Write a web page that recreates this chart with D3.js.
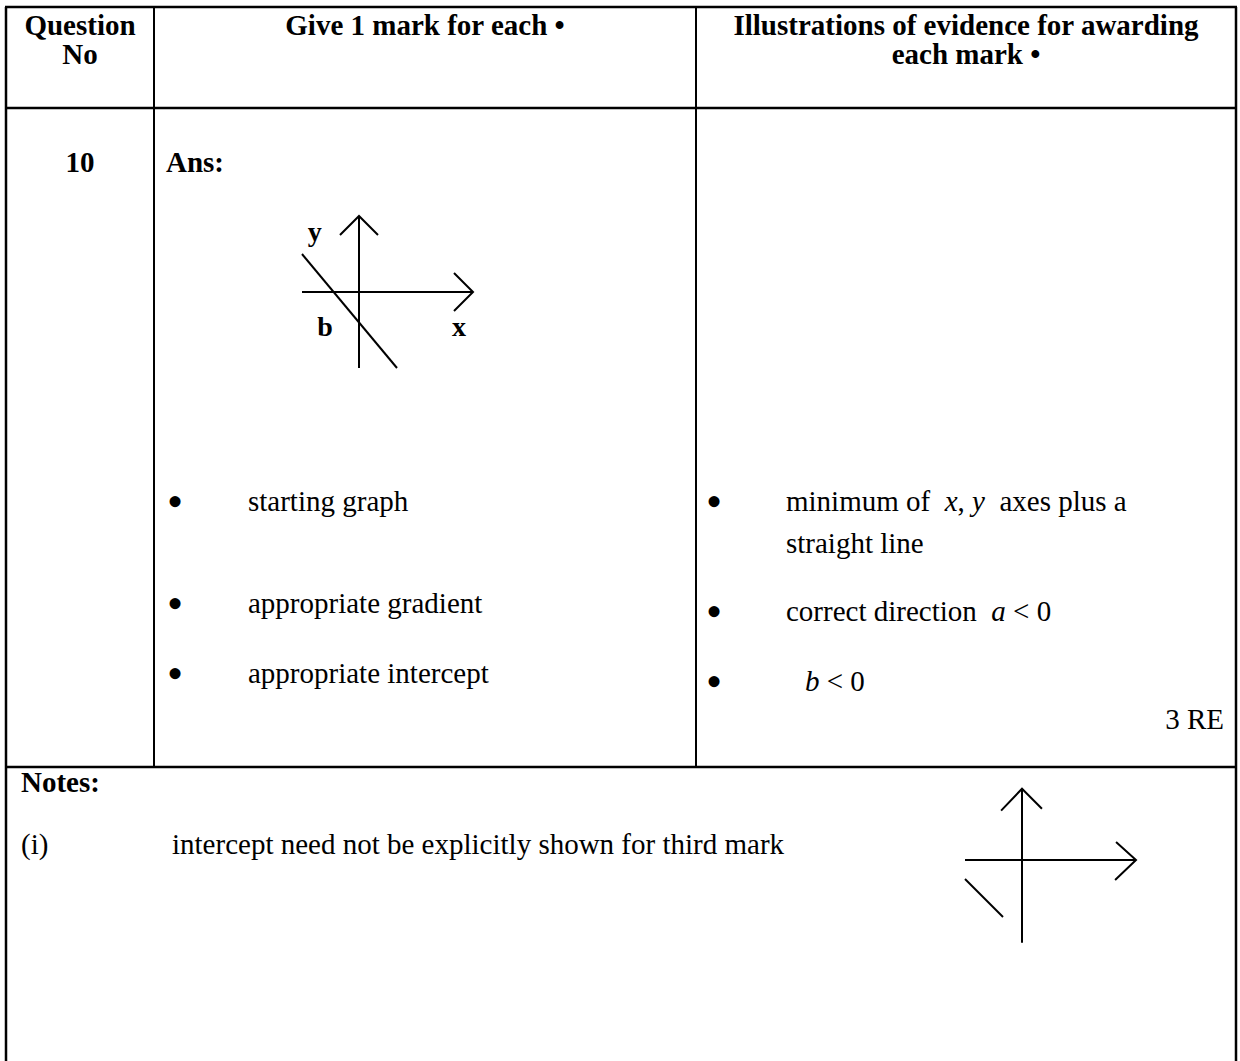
<!DOCTYPE html>
<html>
<head>
<meta charset="utf-8">
<script src="https://cdn.jsdelivr.net/npm/d3@7"></script>
<style>
  body { margin: 0; background: #fff; }
  text { font-family: "Liberation Serif", "Times New Roman", serif; fill: #000; }
</style>
</head>
<body>
<script>
// table text
var headers = [
    ['Question', 'No'],
    ['Give 1 mark for each \u2022'],
    ['Illustrations of evidence for awarding', 'each mark \u2022']
];
var questionNo = '10';
var answerLabel = 'Ans:';
var marks = ['starting graph', 'appropriate gradient', 'appropriate intercept'];
// evidence lines, each a list of [text, italic] pieces
var evidence = [
    [[['minimum of  ', false], ['x', true], [', ', false], ['y', true], ['  axes plus a', false]],
     [['straight line', false]]],
    [[['correct direction  ', false], ['a', true], [' < 0', false]]],
    [[['b', true], [' < 0', false]]]
];
var markTotal = '3 RE';
var notesTitle = 'Notes:';
var notes = [['(i)', 'intercept need not be explicitly shown for third mark']];

// sketch 1 (answer graph), in sketch units
var ansAxisX = [[-3, 0], [6, 0]];
var ansArrowX = [[5, 1], [6, 0], [5, -1]];
var ansAxisY = [[0, -4], [0, 4]];
var ansArrowY = [[-1, 3], [0, 4], [1, 3]];
var ansLine = [[-3, 2], [2, -4]];
var ansLabels = [['y', -2.7, 2.7], ['b', -2.2, -2.3], ['x', 4.9, -2.3]];

// sketch 2 (notes graph)
var noteAxisX = [[-3, 0], [6, 0]];
var noteArrowX = [[4.95, 0.95], [6, 0], [4.9, -1.05]];
var noteAxisY = [[0, -4.35], [0, 3.75]];
var noteArrowY = [[-1.1, 2.6], [0, 3.75], [1.05, 2.7]];
var noteLine = [[-3, -1], [-1, -3]];

var W = 1240, H = 1061;
var FS = 29;
var colX = [6, 154, 696, 1236];
var rowY = [7, 108, 767];

var svg = d3.select('body').append('svg')
    .attr('width', W)
    .attr('height', H);

drawGrid();
drawHeaders();
drawBody();
drawSketch(359, 292, 19, [ansAxisX, ansArrowX, ansAxisY, ansArrowY, ansLine], ansLabels);
drawSketch(1022, 860, 19, [noteAxisX, noteArrowX, noteAxisY, noteArrowY, noteLine], []);

function hline(x1, x2, y, w) {
    svg.append('line').attr('x1', x1).attr('x2', x2).attr('y1', y).attr('y2', y)
        .attr('stroke', '#000').attr('stroke-width', w);
}

function vline(x, y1, y2, w) {
    svg.append('line').attr('x1', x).attr('x2', x).attr('y1', y1).attr('y2', y2)
        .attr('stroke', '#000').attr('stroke-width', w);
}

function drawGrid() {
    hline(colX[0] - 1, colX[3] + 1, rowY[0], 2.5);
    hline(colX[0] - 1, colX[3] + 1, rowY[1], 2.5);
    hline(colX[0] - 1, colX[3] + 1, rowY[2], 2.5);
    vline(colX[0], rowY[0], H, 2.5);
    vline(colX[3], rowY[0], H, 2.5);
    vline(colX[1], rowY[0], rowY[2], 2);
    vline(colX[2], rowY[0], rowY[2], 2);
}

function addText(x, y, str, size, bold, anchor) {
    return svg.append('text')
        .attr('x', x).attr('y', y)
        .attr('font-size', size)
        .attr('font-weight', bold ? 'bold' : 'normal')
        .attr('text-anchor', anchor || 'start')
        .text(str);
}

function bullet(cx, cy) {
    // large bullet glyph, centred on (cx, cy)
    addText(cx, cy + 15, '\u2022', 46, false, 'middle');
}

function drawHeaders() {
    headers.forEach(function (lines, i) {
        var cx = (colX[i] + colX[i + 1]) / 2;
        lines.forEach(function (l, j) {
            addText(cx, 35 + j * 29, l, FS, true, 'middle');
        });
    });
}

function drawBody() {
    addText(80, 172, questionNo, FS, true, 'middle');
    addText(166, 172, answerLabel, FS, true);

    var markY = [511, 613, 683];
    marks.forEach(function (m, i) {
        bullet(175, markY[i] - 9);
        addText(248, markY[i], m, FS);
    });

    var evY = [511, 621, 691];
    var evX = [786, 786, 805];
    evidence.forEach(function (lines, i) {
        bullet(714, evY[i] - 9);
        lines.forEach(function (pieces, j) {
            var t = svg.append('text')
                .attr('x', evX[i]).attr('y', evY[i] + j * 42)
                .attr('font-size', FS)
                .attr('xml:space', 'preserve')
                .style('white-space', 'pre');
            pieces.forEach(function (p) {
                t.append('tspan')
                    .attr('font-style', p[1] ? 'italic' : 'normal')
                    .text(p[0]);
            });
        });
    });
    addText(1224, 729, markTotal, FS, false, 'end');

    addText(21, 792, notesTitle, FS, true);
    notes.forEach(function (n, i) {
        addText(21, 854 + i * 40, n[0], FS);
        addText(172, 854 + i * 40, n[1], FS);
    });
}

function drawSketch(ox, oy, unit, segments, labels) {
    var x = d3.scaleLinear().domain([0, 1]).range([ox, ox + unit]);
    var y = d3.scaleLinear().domain([0, 1]).range([oy, oy - unit]);
    var line = d3.line()
        .x(function (d) { return x(d[0]); })
        .y(function (d) { return y(d[1]); });

    svg.append('g').selectAll('path')
        .data(segments)
        .enter().append('path')
        .attr('d', line)
        .attr('fill', 'none')
        .attr('stroke', '#000')
        .attr('stroke-width', 2)
        .attr('stroke-linejoin', 'miter');

    svg.append('g').selectAll('text')
        .data(labels)
        .enter().append('text')
        .attr('x', function (d) { return x(d[1]); })
        .attr('y', function (d) { return y(d[2]); })
        .attr('font-size', 28)
        .attr('font-weight', 'bold')
        .text(function (d) { return d[0]; });
}
</script>
</body>
</html>
